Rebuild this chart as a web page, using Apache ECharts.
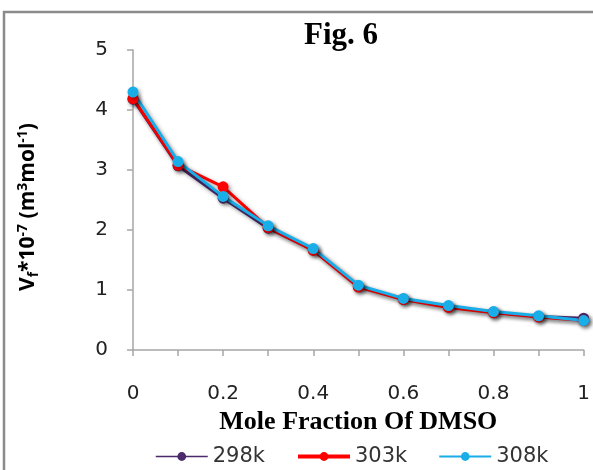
<!DOCTYPE html>
<html><head><meta charset="utf-8">
<script src="https://cdn.jsdelivr.net/npm/echarts@6/dist/echarts.min.js"></script>
<style>html,body{margin:0;padding:0;background:#fff}#c{width:593px;height:470px}</style>
</head><body><div id="c"></div>
<script>
const moleFraction = [0, 0.1, 0.2, 0.3, 0.4, 0.5, 0.6, 0.7, 0.8, 0.9, 1.0];
const v298 = [4.18, 3.07, 2.53, 2.03, 1.67, 1.06, 0.85, 0.72, 0.63, 0.56, 0.53];
const v303 = [4.19, 3.08, 2.72, 2.04, 1.66, 1.05, 0.84, 0.71, 0.62, 0.55, 0.49];
const v308 = [4.30, 3.14, 2.56, 2.07, 1.69, 1.08, 0.86, 0.74, 0.64, 0.57, 0.49];
const seriesNames = ['298k', '303k', '308k'];
const seriesColors = ['#4a2a6b', '#ff0000', '#1aaee8'];
const yTicks = [0, 1, 2, 3, 4, 5];

const chart = echarts.init(document.getElementById('c'));
const shadow = {shadowColor:'rgba(0,0,0,0.35)', shadowBlur:4, shadowOffsetX:2, shadowOffsetY:2};
const noShadow = {shadowBlur:0, shadowOffsetX:0, shadowOffsetY:0};
function mk(name, vals, color){
  return {
    name, type:'line', data: moleFraction.map((x,i)=>[x, vals[i]]),
    symbol:'circle', symbolSize:11, smooth:false,
    lineStyle:Object.assign({color, width:3}, shadow),
    itemStyle:Object.assign({color}, shadow),
    emphasis:{disabled:true}
  };
}
chart.setOption({
  animation:false,
  title:{text:'Fig. 6', left:336, top:15, textAlign:'center',
    textStyle:{fontFamily:'Liberation Serif', fontWeight:'bold', fontSize:31, color:'#000'}},
  graphic:[{type:'rect', shape:{x:4, y:12, width:800, height:800},
    style:{fill:'none', stroke:'#8a8a8a', lineWidth:2.5}, silent:true, z:-1}],
  grid:{left:133, right:4, top:50, bottom:120, containLabel:false},
  legend:{top:441, left:150, itemGap:31, itemWidth:52, itemHeight:11,
    data:[
      {name:seriesNames[0], lineStyle:Object.assign({width:1.5}, noShadow), itemStyle:noShadow},
      {name:seriesNames[1], lineStyle:Object.assign({width:4}, noShadow), itemStyle:noShadow},
      {name:seriesNames[2], lineStyle:Object.assign({width:2}, noShadow), itemStyle:noShadow}
    ],
    textStyle:{fontFamily:'DejaVu Sans', fontSize:21, color:'#333'}},
  xAxis:{type:'value', min:0, max:1, interval:0.1,
    name:'Mole Fraction Of DMSO', nameLocation:'middle', nameGap:52,
    nameTextStyle:{fontFamily:'Liberation Serif', fontWeight:'bold', fontSize:26, color:'#000'},
    axisLine:{show:true, onZero:false, lineStyle:{color:'#a6a6a6', width:1.5}},
    axisTick:{show:true, inside:false, length:6, lineStyle:{color:'#a6a6a6', width:1.5}},
    splitLine:{show:false},
    axisLabel:{margin:34, fontFamily:'DejaVu Sans', fontSize:20, color:'#222',
      showMaxLabel:true,
      formatter:v=>{const r=Math.round(v*10); return r%2===0 ? String(+(r/10).toFixed(1)) : '';}}
  },
  yAxis:{type:'value', min:0, max:5, interval:1,
    name:'{b|V}{sub|f}{b|*10}{sup|-7}{b| (m}{sup|3}{b|mol}{sup|-1}{b|)}',
    nameLocation:'middle', nameRotate:90, nameGap:92,
    nameTextStyle:{padding:[0,14,0,0], rich:{
      b:{fontFamily:'Open Sans', fontWeight:'bold', fontSize:21, color:'#000'},
      sub:{fontFamily:'Open Sans', fontWeight:'bold', fontSize:14, color:'#000', padding:[11,0,0,0]},
      sup:{fontFamily:'Open Sans', fontWeight:'bold', fontSize:14, color:'#000', padding:[0,0,11,0]}
    }},
    axisLine:{show:true, lineStyle:{color:'#a6a6a6', width:1.5}},
    axisTick:{show:true, inside:false, length:6, lineStyle:{color:'#a6a6a6', width:1.5}},
    splitLine:{show:false},
    axisLabel:{margin:25, fontFamily:'DejaVu Sans', fontSize:20, color:'#222',
      formatter:v=>yTicks.includes(v)?String(v):''}
  },
  series:[mk(seriesNames[0], v298, seriesColors[0]), mk(seriesNames[1], v303, seriesColors[1]), mk(seriesNames[2], v308, seriesColors[2])]
});
</script></body></html>
